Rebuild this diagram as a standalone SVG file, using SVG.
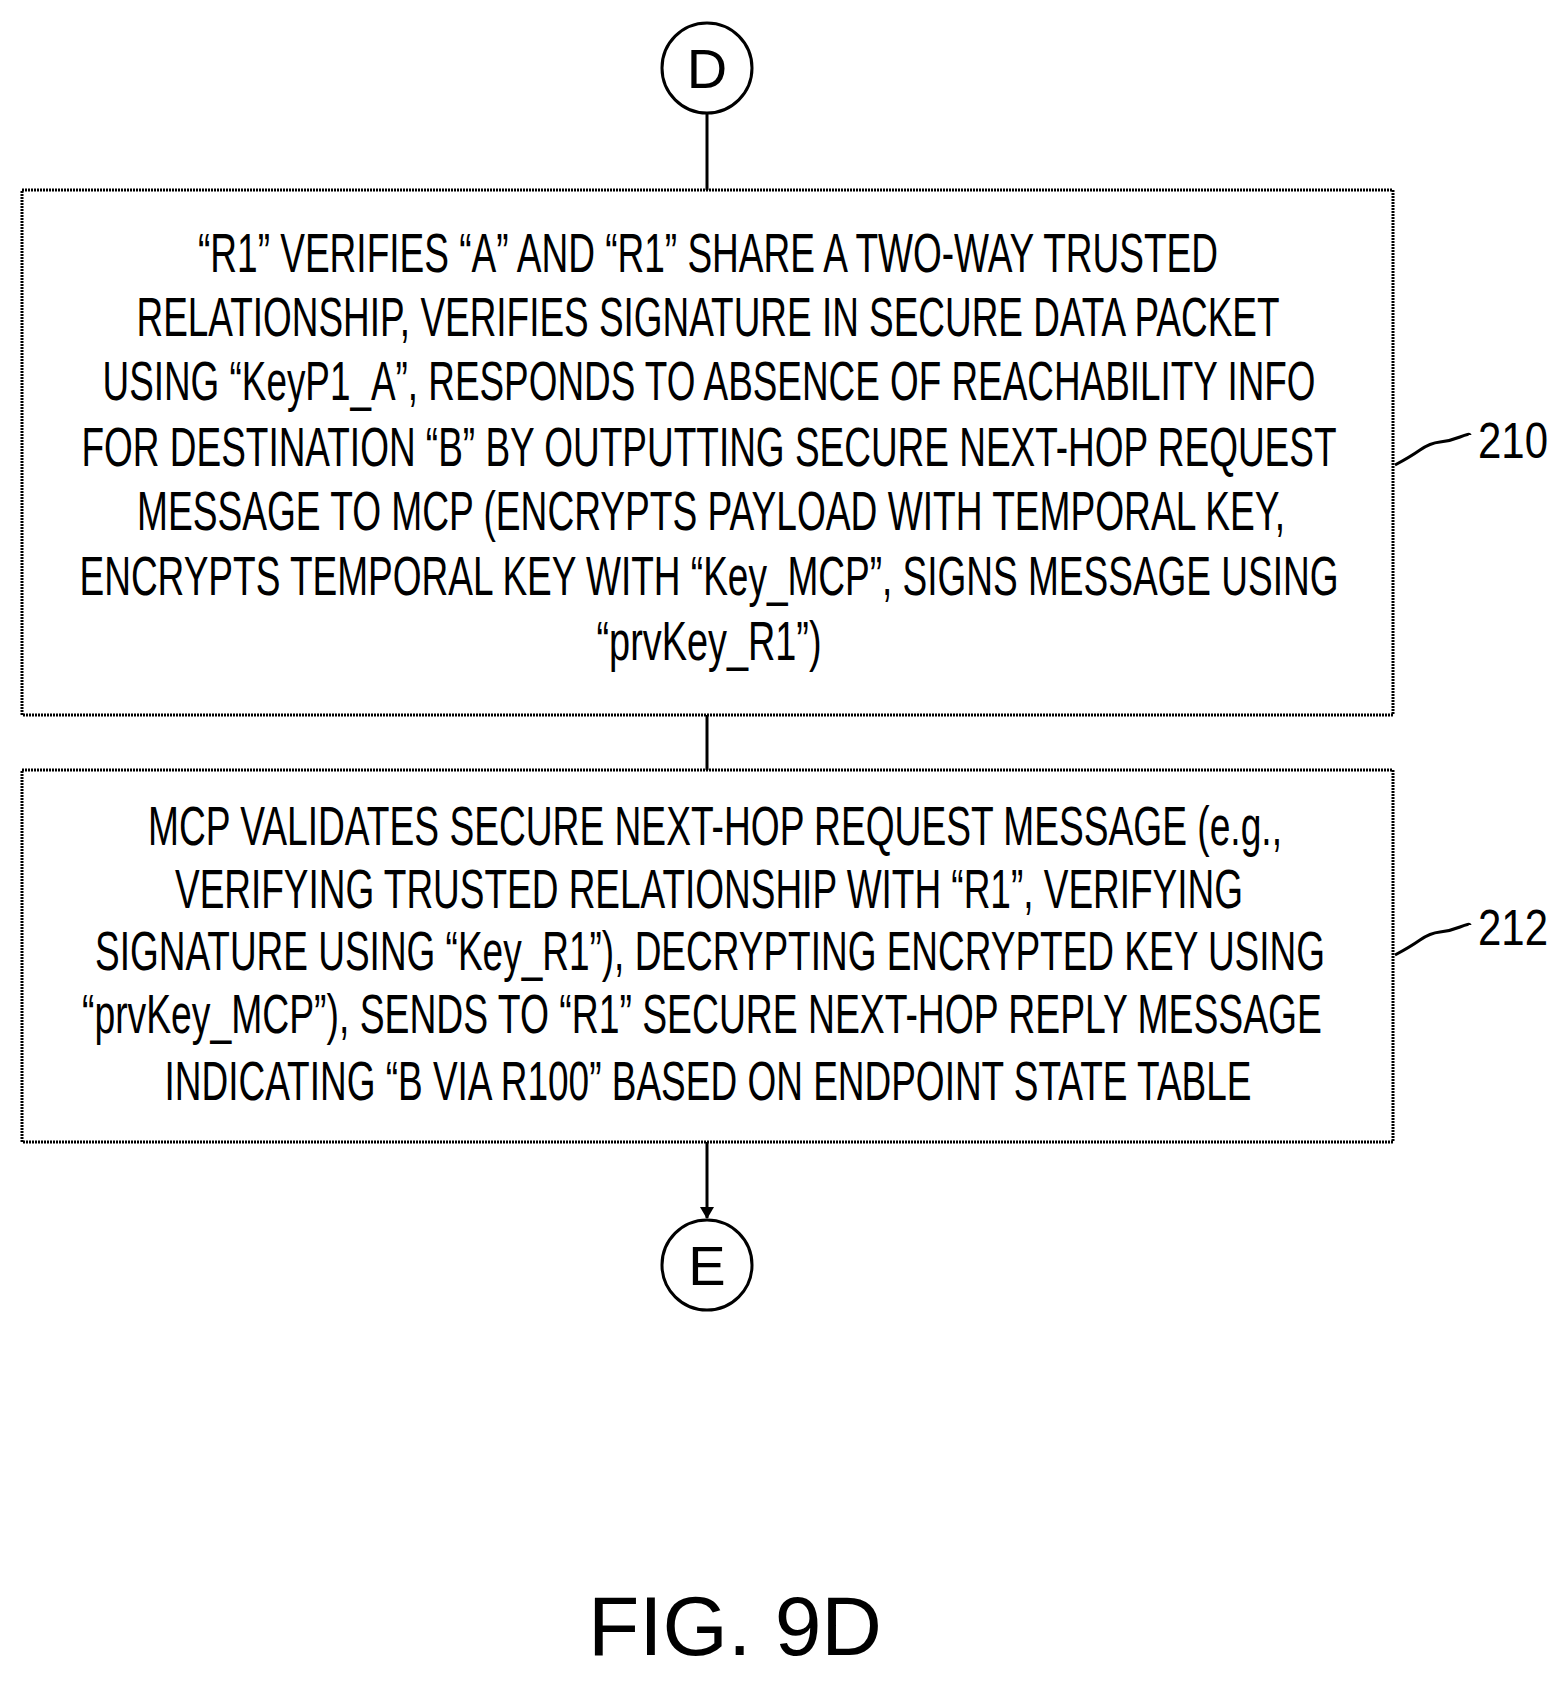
<svg xmlns="http://www.w3.org/2000/svg" width="1551" height="1682" viewBox="0 0 1551 1682">
<style>
.b{fill:none;stroke:#000;stroke-width:3;stroke-dasharray:2 1}
.t{font-family:"Liberation Sans",Arial,sans-serif;font-size:56px;fill:#000;text-anchor:middle}
.r{font-family:"Liberation Sans",Arial,sans-serif;font-size:50px;fill:#000}
.l{fill:none;stroke:#000;stroke-width:3}
</style>
<defs><marker id="a" markerWidth="12" markerHeight="14" refX="11" refY="7" orient="auto" markerUnits="userSpaceOnUse"><path d="M0,0L12,7L0,14z" fill="#000"/></marker></defs>
<g id="conn">
<line class="l" x1="707" y1="113" x2="707" y2="190"/>
<line class="l" x1="707" y1="715" x2="707" y2="770"/>
<line class="l" x1="707" y1="1142" x2="707" y2="1218" marker-end="url(#a)"/>
<path class="l" d="M1395,465 q15,-8 25,-15 t20,-8 t20,-5 t10,-2"/>
<path class="l" d="M1395,955 q15,-8 25,-15 t20,-8 t20,-5 t10,-2"/>
</g>
<g id="D"><circle class="l" cx="707" cy="68" r="45"/><text class="t" x="707" y="88">D</text></g>
<g id="n210"><rect class="b" x="22" y="190" width="1371" height="525"/>
<text class="t" x="708" y="272" textLength="1020" lengthAdjust="spacingAndGlyphs">“R1” VERIFIES “A” AND “R1” SHARE A TWO-WAY TRUSTED</text>
<text class="t" x="708" y="336" textLength="1143" lengthAdjust="spacingAndGlyphs">RELATIONSHIP, VERIFIES SIGNATURE IN SECURE DATA PACKET</text>
<text class="t" x="709" y="400" textLength="1213" lengthAdjust="spacingAndGlyphs">USING “KeyP1_A”, RESPONDS TO ABSENCE OF REACHABILITY INFO</text>
<text class="t" x="709" y="466" textLength="1255" lengthAdjust="spacingAndGlyphs">FOR DESTINATION “B” BY OUTPUTTING SECURE NEXT-HOP REQUEST</text>
<text class="t" x="711" y="530" textLength="1148" lengthAdjust="spacingAndGlyphs">MESSAGE TO MCP (ENCRYPTS PAYLOAD WITH TEMPORAL KEY,</text>
<text class="t" x="709" y="595" textLength="1259" lengthAdjust="spacingAndGlyphs">ENCRYPTS TEMPORAL KEY WITH “Key_MCP”, SIGNS MESSAGE USING</text>
<text class="t" x="709" y="660" textLength="225" lengthAdjust="spacingAndGlyphs">“prvKey_R1”)</text>
</g>
<text class="r" x="1478" y="458" textLength="70" lengthAdjust="spacingAndGlyphs">210</text>
<g id="n212"><rect class="b" x="22" y="770" width="1371" height="372"/>
<text class="t" x="715" y="845" textLength="1134" lengthAdjust="spacingAndGlyphs">MCP VALIDATES SECURE NEXT-HOP REQUEST MESSAGE (e.g.,</text>
<text class="t" x="709" y="908" textLength="1068" lengthAdjust="spacingAndGlyphs">VERIFYING TRUSTED RELATIONSHIP WITH “R1”, VERIFYING</text>
<text class="t" x="710" y="970" textLength="1230" lengthAdjust="spacingAndGlyphs">SIGNATURE USING “Key_R1”), DECRYPTING ENCRYPTED KEY USING</text>
<text class="t" x="702" y="1033" textLength="1240" lengthAdjust="spacingAndGlyphs">“prvKey_MCP”), SENDS TO “R1” SECURE NEXT-HOP REPLY MESSAGE</text>
<text class="t" x="708" y="1100" textLength="1087" lengthAdjust="spacingAndGlyphs">INDICATING “B VIA R100” BASED ON ENDPOINT STATE TABLE</text>
</g>
<text class="r" x="1478" y="945" textLength="70" lengthAdjust="spacingAndGlyphs">212</text>
<g id="E"><circle class="l" cx="707" cy="1265" r="45"/><text class="t" x="707" y="1285">E</text></g>
<text class="t" x="735" y="1655" style="font-size:84px">FIG. 9D</text>
</svg>
